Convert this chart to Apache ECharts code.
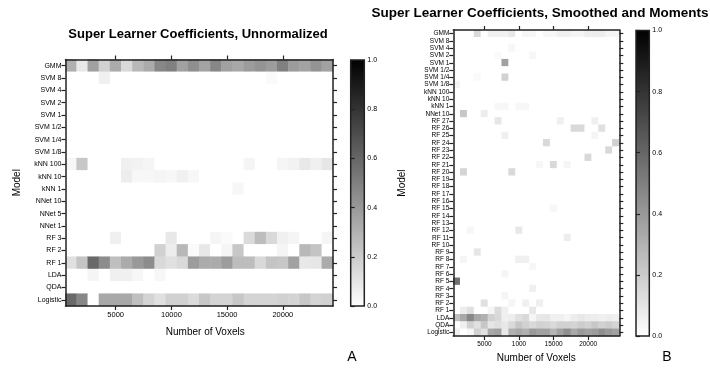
<!DOCTYPE html>
<html>
<head>
<meta charset="utf-8">
<script src="https://cdn.jsdelivr.net/npm/echarts@6/dist/echarts.min.js"></script>
<style>
  html, body { margin: 0; padding: 0; background: #fff; }
  #chart { width: 710px; height: 368px; }
</style>
</head>
<body>
<div id="chart"></div>
<script>
// Voxel counts (columns) shared by both panels
const voxelCounts = [1000, 2000, 3000, 4000, 5000, 6000, 7000, 8000, 9000, 10000, 11000, 12000,
                     13000, 14000, 15000, 16000, 17000, 18000, 19000, 20000, 21000, 22000, 23000, 24000];
const tickVoxels = [5000, 10000, 15000, 20000];
const tickLabelsA = ['5000', '10000', '15000', '20000'];
const tickLabelsB = ['5000', '1000', '15000', '20000'];

// Panel A: models (top to bottom) and coefficients per voxel count
const modelsA = ['GMM', 'SVM 8', 'SVM 4', 'SVM 2', 'SVM 1', 'SVM 1/2', 'SVM 1/4', 'SVM 1/8',
                 'kNN 100', 'kNN 10', 'kNN 1', 'NNet 10', 'NNet 5', 'NNet 1',
                 'RF 3', 'RF 2', 'RF 1', 'LDA', 'QDA', 'Logistic'];
const coefA = [
  [.31,.09,.37,.18,.33,.15,.28,.33,.47,.50,.37,.44,.36,.47,.37,.34,.39,.42,.39,.50,.39,.36,.42,.37],
  [0,0,0,.06,0,0,0,0,0,0,0,0,0,0,0,0,0,0,.02,0,0,0,0,0],
  [0,0,0,0,0,0,0,0,0,0,0,0,0,0,0,0,0,0,0,0,0,0,0,0],
  [0,0,0,0,0,0,0,0,0,0,0,0,0,0,0,0,0,0,0,0,0,0,0,0],
  [0,0,0,0,0,0,0,0,0,0,0,0,0,0,0,0,0,0,0,0,0,0,0,0],
  [0,0,0,0,0,0,0,0,0,0,0,0,0,0,0,0,0,0,0,0,0,0,0,0],
  [0,0,0,0,0,0,0,0,0,0,0,0,0,0,0,0,0,0,0,0,0,0,0,0],
  [0,0,0,0,0,0,0,0,0,0,0,0,0,0,0,0,0,0,0,0,0,0,0,0],
  [.03,.22,0,0,0,.06,.05,.04,0,0,0,0,0,0,0,0,.04,0,0,.04,.05,.09,.06,.10],
  [0,0,0,0,0,.07,.03,.03,.04,.03,.06,.03,0,0,0,0,0,0,0,0,0,0,0,0],
  [0,0,0,0,0,0,0,0,0,0,0,0,0,0,0,.03,0,0,0,0,0,0,0,0],
  [0,0,0,0,0,0,0,0,0,0,0,0,0,0,0,0,0,0,0,0,0,0,0,0],
  [0,0,0,0,0,0,0,0,0,0,0,0,0,0,0,0,0,0,0,0,0,0,0,0],
  [0,0,0,0,0,0,0,0,0,0,0,0,0,0,0,0,0,0,0,0,0,0,0,0],
  [0,0,0,0,.06,0,0,0,0,.09,0,0,0,.04,.02,0,.14,.26,.15,.06,.04,0,0,.04],
  [0,0,0,0,0,0,0,0,.18,.07,.28,.02,.09,0,.04,.22,0,0,0,.04,0,.28,.23,0],
  [.12,.23,.59,.45,.25,.33,.40,.45,.15,.12,.15,.39,.33,.33,.39,.26,.26,.15,.23,.22,.37,.09,.10,.33],
  [0,0,.04,0,.06,.06,.03,0,.03,0,0,0,0,0,0,0,0,0,0,0,0,0,0,0],
  [0,0,0,0,0,0,0,0,0,0,0,0,0,0,0,0,0,0,0,0,0,0,0,0],
  [.59,.47,0,.34,.34,.34,.25,.17,.12,.18,.18,.14,.22,.17,.17,.22,.17,.17,.17,.18,.17,.22,.17,.18]
];

// Panel B: models (top to bottom) and coefficients per voxel count
const modelsB = ['GMM', 'SVM 8', 'SVM 4', 'SVM 2', 'SVM 1', 'SVM 1/2', 'SVM 1/4', 'SVM 1/8',
                 'kNN 100', 'kNN 10', 'kNN 1', 'NNet 10',
                 'RF 27', 'RF 26', 'RF 25', 'RF 24', 'RF 23', 'RF 22', 'RF 21', 'RF 20', 'RF 19',
                 'RF 18', 'RF 17', 'RF 16', 'RF 15', 'RF 14', 'RF 13', 'RF 12', 'RF 11', 'RF 10',
                 'RF 9', 'RF 8', 'RF 7', 'RF 6', 'RF 5', 'RF 4', 'RF 3', 'RF 2', 'RF 1',
                 'LDA', 'QDA', 'Logistic'];
const coefB = [
  [0,0,0,.15,0,.06,.06,.06,.09,0,.04,.03,0,.03,.03,.06,.06,.04,.04,.07,.07,.07,.04,.04],
  [0,0,0,0,0,0,0,0,0,0,0,0,0,0,0,0,0,0,0,0,0,0,0,0],
  [0,0,0,0,0,0,0,0,.03,0,0,0,0,0,0,0,0,0,0,0,0,0,0,0],
  [0,0,0,0,0,0,.02,0,0,0,0,.03,0,0,0,0,0,0,0,0,0,0,0,0],
  [0,0,0,0,0,0,0,.37,0,0,0,0,0,0,0,0,0,0,0,0,0,0,0,0],
  [0,0,0,0,0,0,0,0,0,0,0,0,0,0,0,0,0,0,0,0,0,0,0,0],
  [0,0,0,.02,0,0,0,.18,0,0,0,0,0,0,0,0,0,0,0,0,0,0,0,0],
  [.04,0,0,0,0,0,0,0,0,0,0,0,0,0,0,0,0,0,0,0,0,0,0,0],
  [0,0,0,0,0,0,0,0,0,0,0,0,0,0,0,0,0,0,0,0,0,0,0,0],
  [0,0,0,0,0,0,0,0,0,0,0,0,0,0,0,0,0,0,0,0,0,0,0,0],
  [0,0,0,0,0,0,.03,.03,0,.03,.03,0,0,0,0,0,0,0,0,0,0,0,0,0],
  [0,.22,0,0,.07,0,0,0,0,0,0,0,0,0,0,0,0,0,0,0,0,0,0,0],
  [0,0,0,0,0,0,.10,0,0,0,0,0,0,0,0,.06,0,0,0,0,.06,0,0,0],
  [0,0,0,0,0,0,0,0,0,0,0,0,0,0,0,0,0,.15,.15,0,0,.12,0,0],
  [0,0,0,0,0,0,0,.06,0,0,0,0,0,0,0,0,0,0,0,0,.04,0,0,0],
  [0,0,0,0,0,0,0,0,0,0,0,0,0,.15,0,0,0,0,0,0,0,0,0,.18],
  [0,0,0,0,0,0,0,0,0,0,0,0,0,0,0,0,0,0,0,0,0,0,.15,0],
  [0,0,0,0,0,0,0,0,0,0,0,0,0,0,0,0,0,0,0,.15,0,0,0,0],
  [0,0,0,0,0,0,0,0,0,0,0,0,.03,0,.15,0,.04,0,0,0,0,0,0,0],
  [0,.17,0,0,0,0,0,0,.15,0,0,0,0,0,0,0,0,0,0,0,0,0,0,0],
  [0,0,0,0,0,0,0,0,0,0,0,0,0,0,0,0,0,0,0,0,0,0,0,0],
  [0,0,0,0,0,0,0,0,0,0,0,0,0,0,0,0,0,0,0,0,0,0,0,0],
  [0,0,0,0,0,0,0,0,0,0,0,0,0,0,0,0,0,0,0,0,0,0,0,0],
  [0,0,0,0,0,0,0,0,0,0,0,0,0,0,0,0,0,0,0,0,0,0,0,0],
  [0,0,0,0,0,0,0,0,0,0,0,0,0,0,.03,0,0,0,0,0,0,0,0,0],
  [0,0,0,0,0,0,0,0,0,0,0,0,0,0,0,0,0,0,0,0,0,0,0,0],
  [0,0,0,0,0,0,0,0,0,0,0,0,0,0,0,0,0,0,0,0,0,0,0,0],
  [0,0,.03,0,0,0,0,0,0,.09,0,0,0,0,0,0,0,0,0,0,0,0,0,0],
  [0,0,0,0,0,0,0,0,0,0,0,0,0,0,0,0,.07,0,0,0,0,0,0,0],
  [0,0,0,0,0,0,0,0,0,0,0,0,0,0,0,0,0,0,0,0,0,0,0,0],
  [0,0,0,.10,0,0,0,0,0,0,0,0,0,0,0,0,0,0,0,0,0,0,0,0],
  [0,.04,0,0,0,0,0,0,0,.06,.06,0,0,0,0,0,0,0,0,0,0,0,0,0],
  [0,0,0,0,0,0,0,0,0,0,0,.03,0,0,0,0,0,0,0,0,0,0,0,0],
  [0,0,0,0,0,0,0,.04,0,0,0,0,0,0,0,0,0,0,0,0,0,0,0,0],
  [.56,0,0,0,0,0,0,0,0,0,0,0,0,0,0,0,0,0,0,0,0,0,0,0],
  [0,0,0,0,0,0,0,0,0,0,0,.06,0,0,0,0,0,0,0,0,0,0,0,0],
  [0,0,0,0,0,0,0,.04,0,0,0,0,0,0,0,0,0,0,0,0,0,0,0,0],
  [0,0,0,0,.12,0,0,0,.04,0,.06,0,.06,0,0,0,0,0,0,0,0,0,0,0],
  [0,.07,.12,0,0,.04,.14,.06,0,0,0,.09,0,0,0,0,0,0,0,0,0,0,0,0],
  [.25,.34,.47,.34,.31,.18,.15,.06,.07,.12,.15,.04,.09,.10,.06,.06,.04,.07,.09,.07,.07,.06,.07,.06],
  [0,.06,.18,.12,.22,.10,.12,.09,.15,.22,.18,.15,.18,.17,.15,.18,.18,.17,.20,.18,.22,.18,.20,.17],
  [.06,0,.03,.18,.12,.34,.37,.09,.31,.34,.31,.40,.37,.37,.29,.37,.44,.34,.40,.37,.39,.44,.40,.37]
];

const FONT = "'Liberation Sans', Arial, Helvetica, sans-serif";
const INK = '#000000';

function toCells(matrix) {
  const cells = [];
  matrix.forEach((row, r) => row.forEach((v, c) => cells.push([c, r, v])));
  return cells;
}
const isTickVoxel = (idx, val) => tickVoxels.indexOf(Number(val)) >= 0;
const tickText = labels => val => {
  const i = tickVoxels.indexOf(Number(val));
  return i >= 0 ? labels[i] : '';
};

function xAxes(gridIndex, labels, fontSize, nameGap, namePad) {
  const common = {
    gridIndex, type: 'category', data: voxelCounts.map(String), z: 5,
    axisLine: { show: true, onZero: false, lineStyle: { color: '#222', width: 1.5 } },
    axisTick: { show: true, alignWithLabel: true, interval: isTickVoxel, length: 4, lineStyle: { color: '#222', width: 1.2 } },
    splitLine: { show: false }
  };
  return [
    Object.assign({}, common, {
      position: 'bottom',
      axisLabel: { interval: isTickVoxel, formatter: tickText(labels), fontSize, color: INK, fontFamily: FONT, margin: 5 },
      name: 'Number of Voxels', nameLocation: 'middle', nameGap,
      nameTextStyle: { fontSize: 10, color: INK, fontFamily: FONT, padding: namePad }
    }),
    Object.assign({}, common, { position: 'top', axisLabel: { show: false } })
  ];
}

function yAxes(gridIndex, models, fontSize, nameGap) {
  const common = {
    gridIndex, type: 'category', data: models, inverse: true, z: 5,
    axisLine: { show: true, onZero: false, lineStyle: { color: '#222', width: 1.5 } },
    axisTick: { show: true, alignWithLabel: true, interval: 0, length: 4, lineStyle: { color: '#222', width: 1.2 } },
    splitLine: { show: false }
  };
  return [
    Object.assign({}, common, {
      position: 'left',
      axisLabel: { interval: 0, fontSize, color: INK, fontFamily: FONT, margin: 4 },
      name: 'Model', nameLocation: 'middle', nameGap,
      nameTextStyle: { fontSize: 10, color: INK, fontFamily: FONT }
    }),
    Object.assign({}, common, { position: 'right', axisLabel: { show: false } })
  ];
}

function colorbarAxes(gridIndex) {
  return {
    x: { gridIndex, type: 'value', min: 0, max: 1, show: false },
    y: {
      gridIndex, type: 'value', min: 0, max: 1, interval: 0.2, position: 'right',
      axisLine: { show: false },
      axisTick: { show: true, length: 4, lineStyle: { color: '#222', width: 1.2 } },
      axisLabel: { fontSize: 7, color: INK, fontFamily: FONT, margin: 3, formatter: v => v.toFixed(1) },
      splitLine: { show: false }
    }
  };
}

const greyRamp = () => new echarts.graphic.LinearGradient(0, 0, 0, 1, [
  { offset: 0, color: '#000000' }, { offset: 1, color: '#ffffff' }
]);

const xA = xAxes(0, tickLabelsA, 7.5, 21, [0, 0, 0, 12]);
const xB = xAxes(1, tickLabelsB, 6.5, 15, [0, 0, 0, 0]);
const yA = yAxes(0, modelsA, 7, 43);
const yB = yAxes(1, modelsB, 6.5, 46);
const cbA = colorbarAxes(2);
const cbB = colorbarAxes(3);

const chart = echarts.init(document.getElementById('chart'), null, { renderer: 'canvas' });
chart.setOption({
  backgroundColor: '#ffffff',
  animation: false,
  textStyle: { fontFamily: FONT },
  grid: [
    { left: 65.5, top: 59.5, width: 267.5, height: 246.5, containLabel: false },
    { left: 453.3, top: 30, width: 166, height: 306.7, containLabel: false },
    { left: 350.7, top: 60, width: 13.6, height: 246, show: true, borderColor: '#222', borderWidth: 1.5, backgroundColor: greyRamp() },
    { left: 636, top: 30.5, width: 13.3, height: 305.5, show: true, borderColor: '#222', borderWidth: 1.5, backgroundColor: greyRamp() }
  ],
  xAxis: [xA[0], xA[1], xB[0], xB[1], cbA.x, cbB.x],
  yAxis: [yA[0], yA[1], yB[0], yB[1], cbA.y, cbB.y],
  visualMap: [
    { show: false, type: 'continuous', seriesIndex: 0, min: 0, max: 1, inRange: { color: ['#ffffff', '#000000'] } },
    { show: false, type: 'continuous', seriesIndex: 1, min: 0, max: 1, inRange: { color: ['#ffffff', '#000000'] } }
  ],
  series: [
    { type: 'heatmap', xAxisIndex: 0, yAxisIndex: 0, data: toCells(coefA), emphasis: { disabled: true }, itemStyle: { borderWidth: 0 } },
    { type: 'heatmap', xAxisIndex: 2, yAxisIndex: 2, data: toCells(coefB), emphasis: { disabled: true }, itemStyle: { borderWidth: 0 } }
  ],
  graphic: [
    { type: 'text', x: 198, y: 34, style: { text: 'Super Learner Coefficients, Unnormalized', font: 'bold 13px ' + FONT, fill: INK, textAlign: 'center', textVerticalAlign: 'middle' } },
    { type: 'text', x: 540, y: 13, style: { text: 'Super Learner Coefficients, Smoothed and Moments', font: 'bold 13.5px ' + FONT, fill: INK, textAlign: 'center', textVerticalAlign: 'middle' } },
    { type: 'text', x: 352, y: 357, style: { text: 'A', font: '14px ' + FONT, fill: INK, textAlign: 'center', textVerticalAlign: 'middle' } },
    { type: 'text', x: 667, y: 357, style: { text: 'B', font: '14px ' + FONT, fill: INK, textAlign: 'center', textVerticalAlign: 'middle' } }
  ]
});
</script>
</body>
</html>
